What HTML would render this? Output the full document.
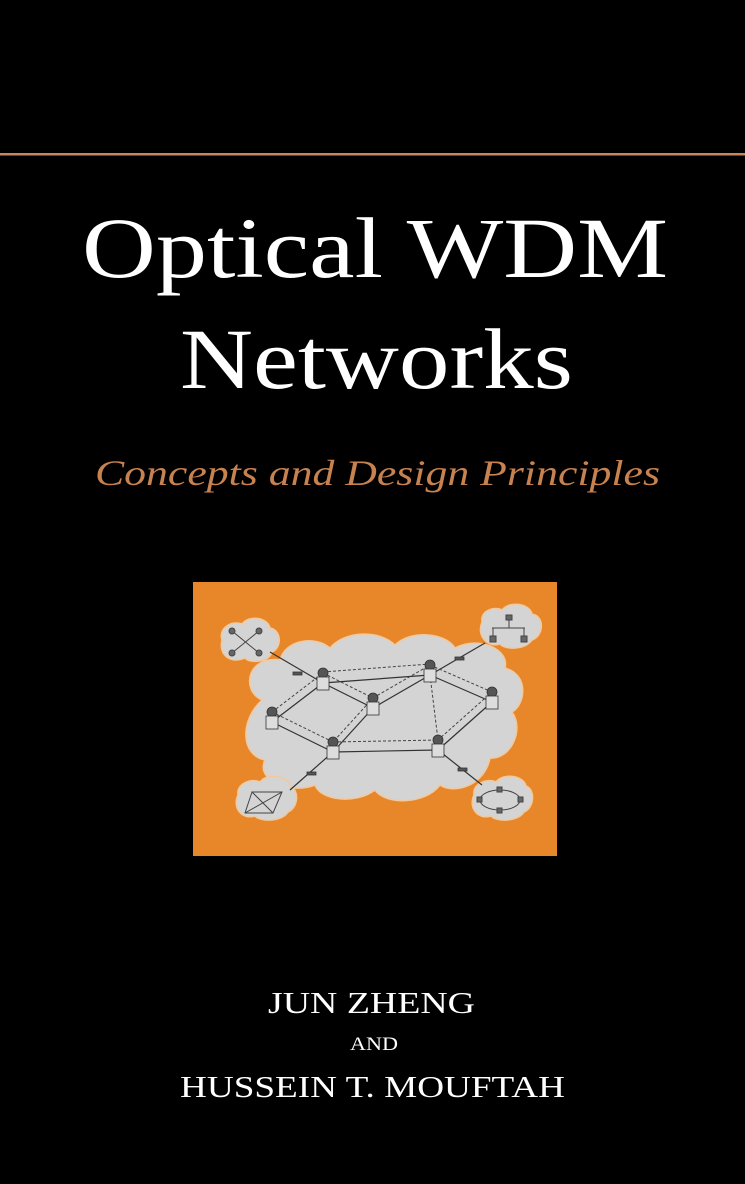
<!DOCTYPE html>
<html><head><meta charset="utf-8"><style>
html,body{margin:0;padding:0;background:#000;}
svg{display:block}
</style></head><body>
<svg width="745" height="1184" viewBox="0 0 745 1184" xmlns="http://www.w3.org/2000/svg">
<rect width="745" height="1184" fill="#000"/>
<rect x="0" y="153" width="745" height="2.5" fill="#c8865a"/>
<g font-family="Liberation Serif, serif" fill="#fff">
<text x="82" y="277" font-size="86" textLength="586" lengthAdjust="spacingAndGlyphs">Optical WDM</text>
<text x="180" y="388" font-size="86" textLength="393" lengthAdjust="spacingAndGlyphs">Networks</text>
<text x="95" y="485" font-size="36" font-style="italic" fill="#c8824f" textLength="565" lengthAdjust="spacingAndGlyphs">Concepts and Design Principles</text>
<text x="268" y="1013" font-size="31" textLength="207" lengthAdjust="spacingAndGlyphs">JUN ZHENG</text>
<text x="350" y="1050" font-size="19" textLength="48" lengthAdjust="spacingAndGlyphs">AND</text>
<text x="180" y="1097" font-size="31" textLength="385" lengthAdjust="spacingAndGlyphs">HUSSEIN T. MOUFTAH</text>
</g>
<rect x="193" y="582" width="364" height="274" fill="#e8872a"/>
<g fill="#d4d4d4" stroke="#f0c9a0" stroke-width="1.5">
<!-- main cloud -->
<path d="M262,700 C240,690 248,655 280,660 C285,640 315,635 330,648 C345,630 380,630 395,645 C410,630 445,632 455,648 C480,635 510,650 505,668 C530,675 525,705 512,712 C525,730 510,760 490,758 C485,785 455,795 440,785 C425,805 385,805 375,790 C355,805 320,800 315,785 C290,795 255,780 265,760 C240,755 240,720 262,700 Z"/>
<path d="M222,640 C218,628 232,620 242,624 C250,614 268,618 270,628 C282,630 282,648 272,652 C270,662 250,664 245,658 C232,664 218,656 222,640 Z"/>
<path d="M482,622 C480,610 495,606 502,610 C510,600 530,604 532,614 C545,616 544,636 532,640 C525,650 505,650 500,644 C488,648 476,636 482,622 Z"/>
<path d="M238,795 C236,783 252,778 260,782 C268,772 288,776 290,786 C300,790 298,808 288,812 C282,822 260,822 255,816 C242,820 232,808 238,795 Z"/>
<path d="M474,795 C472,783 488,778 496,782 C504,772 524,776 526,786 C536,790 534,808 524,812 C518,822 496,822 491,816 C478,820 468,808 474,795 Z"/>
</g>
<g stroke="#333" stroke-width="1.2" fill="none">
<line x1="323" y1="683" x2="430" y2="675"/><line x1="323" y1="683" x2="373" y2="708"/>
<line x1="323" y1="683" x2="272" y2="722"/><line x1="272" y1="722" x2="333" y2="752"/>
<line x1="373" y1="708" x2="430" y2="675"/><line x1="373" y1="708" x2="333" y2="752"/>
<line x1="430" y1="675" x2="492" y2="702"/><line x1="333" y1="752" x2="438" y2="750"/>
<line x1="438" y1="750" x2="492" y2="702"/>
<line x1="270" y1="652" x2="323" y2="683"/><line x1="485" y1="643" x2="430" y2="675"/>
<line x1="333" y1="752" x2="290" y2="790"/><line x1="438" y1="750" x2="482" y2="785"/>
</g>
<g stroke="#444" stroke-width="1" stroke-dasharray="3,2" fill="none">
<line x1="323" y1="672" x2="430" y2="664"/><line x1="272" y1="712" x2="323" y2="673"/>
<line x1="272" y1="712" x2="333" y2="742"/><line x1="373" y1="698" x2="430" y2="665"/>
<line x1="323" y1="673" x2="373" y2="698"/><line x1="430" y1="675" x2="438" y2="740"/>
<line x1="492" y1="692" x2="438" y2="740"/><line x1="430" y1="665" x2="492" y2="692"/>
<line x1="333" y1="742" x2="438" y2="740"/><line x1="373" y1="698" x2="333" y2="742"/>
</g>
<g fill="#555" stroke="#333" stroke-width="0.8">
<g transform="translate(323,683)"><circle cx="0" cy="-10" r="5"/><rect x="-6" y="-6" width="12" height="13" fill="#ddd"/></g>
<g transform="translate(272,722)"><circle cx="0" cy="-10" r="5"/><rect x="-6" y="-6" width="12" height="13" fill="#ddd"/></g>
<g transform="translate(373,708)"><circle cx="0" cy="-10" r="5"/><rect x="-6" y="-6" width="12" height="13" fill="#ddd"/></g>
<g transform="translate(430,675)"><circle cx="0" cy="-10" r="5"/><rect x="-6" y="-6" width="12" height="13" fill="#ddd"/></g>
<g transform="translate(492,702)"><circle cx="0" cy="-10" r="5"/><rect x="-6" y="-6" width="12" height="13" fill="#ddd"/></g>
<g transform="translate(333,752)"><circle cx="0" cy="-10" r="5"/><rect x="-6" y="-6" width="12" height="13" fill="#ddd"/></g>
<g transform="translate(438,750)"><circle cx="0" cy="-10" r="5"/><rect x="-6" y="-6" width="12" height="13" fill="#ddd"/></g>
<rect x="293" y="672" width="9" height="3"/><rect x="455" y="657" width="9" height="3"/>
<rect x="307" y="772" width="9" height="3"/><rect x="458" y="768" width="9" height="3"/>
</g>
<g stroke="#444" stroke-width="1" fill="#666">
<line x1="232" y1="631" x2="259" y2="653"/><line x1="259" y1="631" x2="232" y2="653"/>
<circle cx="232" cy="631" r="3"/><circle cx="259" cy="631" r="3"/><circle cx="232" cy="653" r="3"/><circle cx="259" cy="653" r="3"/>
<line x1="492" y1="628" x2="525" y2="628"/><line x1="509" y1="620" x2="509" y2="628"/>
<line x1="493" y1="628" x2="493" y2="638"/><line x1="524" y1="628" x2="524" y2="638"/>
<rect x="506" y="615" width="6" height="5"/><rect x="490" y="636" width="6" height="6"/><rect x="521" y="636" width="6" height="6"/>
<polyline points="252,792 282,792 273,813 245,813 252,792 273,813" fill="none"/><line x1="282" y1="792" x2="245" y2="813"/>
<ellipse cx="500" cy="800" rx="20" ry="10" fill="none"/>
<rect x="497" y="787" width="5" height="5"/><rect x="477" y="797" width="5" height="5"/><rect x="518" y="797" width="5" height="5"/><rect x="497" y="808" width="5" height="5"/>
</g>
</svg>
</body></html>
